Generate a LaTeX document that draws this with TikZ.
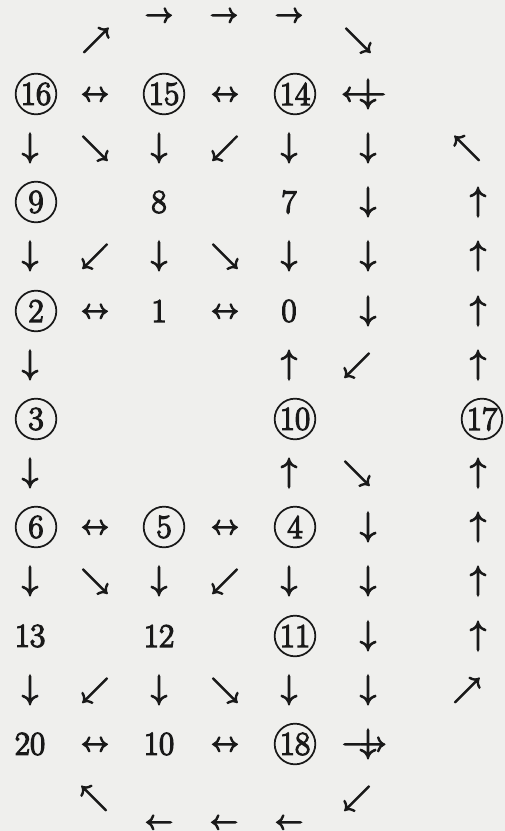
\documentclass[tikz,border=0pt]{standalone}
\definecolor{paper}{RGB}{239,239,237}
\definecolor{ink}{RGB}{25,25,25}
\newcommand\heavyon{\special{pdf:literal direct 2 Tr 0.95 w}}
\newcommand\heavyoff{\special{pdf:literal direct 0 Tr}}
\begin{document}
\begin{tikzpicture}[x=0.75pt,y=-0.75pt,
  every node/.style={font=\fontsize{24.88}{30}\selectfont, text=ink,
    execute at begin node=\heavyon, execute at end node=\heavyoff},
  arr/.style={font=\fontsize{21.75}{26}\selectfont, anchor=base, inner sep=0pt, yshift=-5.44pt},
  varr/.style={anchor=base, inner sep=0pt, yshift=-6.22pt},
  num/.style={inner sep=0pt},
  circ/.style={draw=ink, circle, minimum size=30.5pt, inner sep=0pt, line width=1.3pt}]
\fill[paper] (0,0) rectangle (505,831);
\useasboundingbox (0,0) rectangle (505,831);
% top
\node[arr] (t1) at (96,40) {$\nearrow$};
\node[arr] (t2) at (159,15) {$\rightarrow$};
\node[arr] (t3) at (224,15) {$\rightarrow$};
\node[arr] (t4) at (289,15) {$\rightarrow$};
\node[arr] (t5) at (358,40) {$\searrow$};
% R0
\node[circ] (n16) at (36,94) {16};
\node[arr] (a01) at (95,94) {$\leftrightarrow$};
\node[circ] (n15) at (164,94) {15};
\node[arr] (a03) at (225,94) {$\leftrightarrow$};
\node[circ] (n14) at (295,94) {14};
\node[arr] (a05h) at (364,94) {$\longleftarrow$};
\node[varr] (a05v) at (368,94) {$\downarrow$};
% R1
\node[varr] (a10) at (30,148) {$\downarrow$};
\node[arr] (a11) at (95,148) {$\searrow$};
\node[varr] (a12) at (159,148) {$\downarrow$};
\node[arr] (a13) at (225,148) {$\swarrow$};
\node[varr] (a14) at (289,148) {$\downarrow$};
\node[varr] (a15) at (368,148) {$\downarrow$};
\node[arr] (a16) at (467,148) {$\nwarrow$};
% R2
\node[circ] (n9) at (36,202) {9};
\node[num] (n8) at (159,202) {8};
\node[num] (n7) at (289,202) {7};
\node[varr] (a25) at (368,202) {$\downarrow$};
\node[varr] (a26) at (478,202) {$\uparrow$};
% R3
\node[varr] (a30) at (30,256) {$\downarrow$};
\node[arr] (a31) at (95,256) {$\swarrow$};
\node[varr] (a32) at (159,256) {$\downarrow$};
\node[arr] (a33) at (225,256) {$\searrow$};
\node[varr] (a34) at (289,256) {$\downarrow$};
\node[varr] (a35) at (368,256) {$\downarrow$};
\node[varr] (a36) at (478,256) {$\uparrow$};
% R4
\node[circ] (n2) at (36,311) {2};
\node[arr] (a41) at (95,311) {$\leftrightarrow$};
\node[num] (n1) at (159,311) {1};
\node[arr] (a43) at (225,311) {$\leftrightarrow$};
\node[num] (n0) at (289,311) {0};
\node[varr] (a45) at (368,311) {$\downarrow$};
\node[varr] (a46) at (478,311) {$\uparrow$};
% R5
\node[varr] (a50) at (30,365) {$\downarrow$};
\node[varr] (a54) at (289,365) {$\uparrow$};
\node[arr] (a55) at (357,365) {$\swarrow$};
\node[varr] (a56) at (478,365) {$\uparrow$};
% R6
\node[circ] (n3) at (36,419) {3};
\node[circ] (n10) at (295,419) {10};
\node[circ] (n17) at (482,419) {17};
% R7
\node[varr] (a70) at (30,473) {$\downarrow$};
\node[varr] (a74) at (289,473) {$\uparrow$};
\node[arr] (a75) at (357,473) {$\searrow$};
\node[varr] (a76) at (478,473) {$\uparrow$};
% R8
\node[circ] (n6) at (36,527) {6};
\node[arr] (a81) at (95,527) {$\leftrightarrow$};
\node[circ] (n5) at (164,527) {5};
\node[arr] (a83) at (225,527) {$\leftrightarrow$};
\node[circ] (n4) at (295,527) {4};
\node[varr] (a85) at (368,527) {$\downarrow$};
\node[varr] (a86) at (478,527) {$\uparrow$};
% R9
\node[varr] (a90) at (30,581) {$\downarrow$};
\node[arr] (a91) at (95,581) {$\searrow$};
\node[varr] (a92) at (159,581) {$\downarrow$};
\node[arr] (a93) at (225,581) {$\swarrow$};
\node[varr] (a94) at (289,581) {$\downarrow$};
\node[varr] (a95) at (368,581) {$\downarrow$};
\node[varr] (a96) at (478,581) {$\uparrow$};
% R10
\node[num] (n13) at (30,636) {13};
\node[num] (n12) at (159,636) {12};
\node[circ] (n11) at (295,636) {11};
\node[varr] (b05) at (368,636) {$\downarrow$};
\node[varr] (b06) at (478,636) {$\uparrow$};
% R11
\node[varr] (b10) at (30,690) {$\downarrow$};
\node[arr] (b11) at (95,690) {$\swarrow$};
\node[varr] (b12) at (159,690) {$\downarrow$};
\node[arr] (b13) at (225,690) {$\searrow$};
\node[varr] (b14) at (289,690) {$\downarrow$};
\node[varr] (b15) at (368,690) {$\downarrow$};
\node[arr] (b16) at (467,690) {$\nearrow$};
% R12
\node[num] (n20) at (30,744) {20};
\node[arr] (b21) at (95,744) {$\leftrightarrow$};
\node[num] (n10b) at (159,744) {10};
\node[arr] (b23) at (225,744) {$\leftrightarrow$};
\node[circ] (n18) at (295,744) {18};
\node[arr] (b25h) at (364,744) {$\longrightarrow$};
\node[varr] (b25v) at (368,744) {$\downarrow$};
% bottom
\node[arr] (u1) at (94,798) {$\nwarrow$};
\node[arr] (u2) at (159,822) {$\leftarrow$};
\node[arr] (u3) at (224,822) {$\leftarrow$};
\node[arr] (u4) at (289,822) {$\leftarrow$};
\node[arr] (u5) at (357,798) {$\swarrow$};
\end{tikzpicture}
\end{document}
